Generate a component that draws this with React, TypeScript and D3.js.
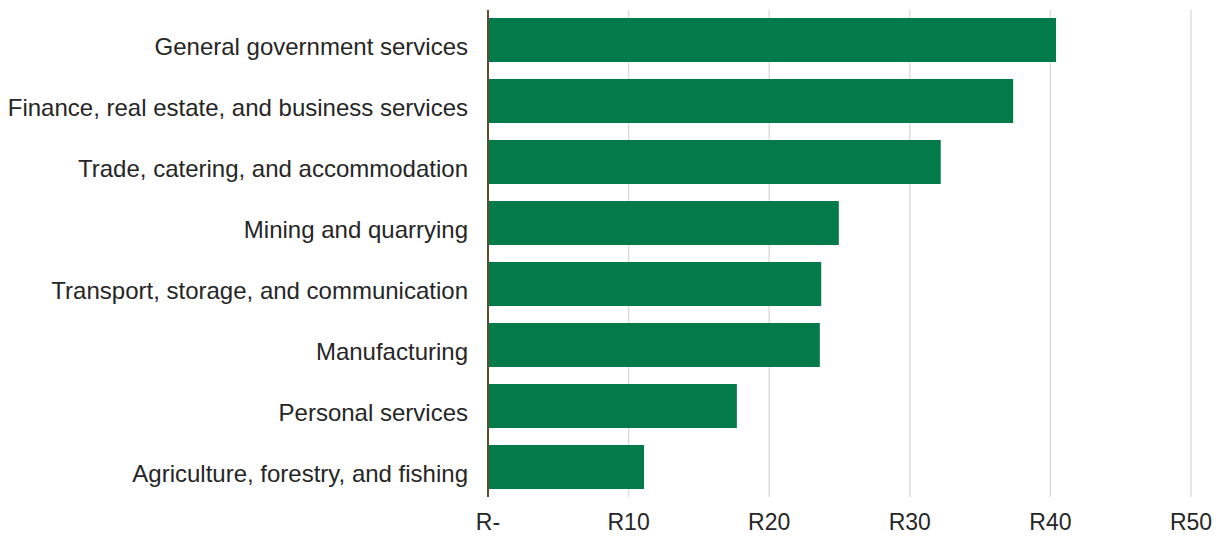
import React from "react";
import * as d3 from "d3";

const categories = [
  "General government services",
  "Finance, real estate, and business services",
  "Trade, catering, and accommodation",
  "Mining and quarrying",
  "Transport, storage, and communication",
  "Manufacturing",
  "Personal services",
  "Agriculture, forestry, and fishing",
];
const values = [40.4, 37.35, 32.2, 24.95, 23.7, 23.6, 17.7, 11.1];
const tickValues = [0, 10, 20, 30, 40, 50];
const tickLabels = ["R-", "R10", "R20", "R30", "R40", "R50"];

const W = 1220;
const H = 537;
const x0 = 488;
const x1 = 1191;
const yTop = 9.5;
const yBot = 497.5;

export default function App() {
  const x = d3.scaleLinear().domain([0, 50]).range([x0, x1]);
  const y = d3
    .scaleBand<string>()
    .domain(categories)
    .range([yTop, yBot])
    .paddingInner(0.279)
    .paddingOuter(0.1395);
  const font = "'Liberation Sans', Arial, Helvetica, sans-serif";
  return (
    <svg
      width={W}
      height={H}
      style={{ position: "absolute", left: 0, top: 0 }}
      fontFamily={font}
    >
      {tickValues.map((t) =>
        t === 0 ? null : (
          <line
            key={"g" + t}
            x1={x(t)}
            x2={x(t)}
            y1={10}
            y2={497}
            stroke="#d9d9d9"
            strokeWidth={1.3}
          />
        )
      )}
      {categories.map((c, i) => (
        <rect
          key={c}
          x={x(0)}
          y={y(c)}
          width={x(values[i]) - x(0)}
          height={y.bandwidth()}
          fill="#037a4a"
        />
      ))}
      <line x1={x(0)} x2={x(0)} y1={10} y2={497} stroke="#5e4e2c" strokeWidth={2} />
      {categories.map((c) => (
        <text
          key={"l" + c}
          x={468}
          y={(y(c) as number) + y.bandwidth() / 2 + 14.5}
          textAnchor="end"
          fontSize={24}
          fill="#262626"
        >
          {c}
        </text>
      ))}
      {tickValues.map((t, i) => (
        <text
          key={"t" + t}
          x={x(t)}
          y={530}
          textAnchor="middle"
          fontSize={23}
          fill="#262626"
        >
          {tickLabels[i]}
        </text>
      ))}
    </svg>
  );
}
